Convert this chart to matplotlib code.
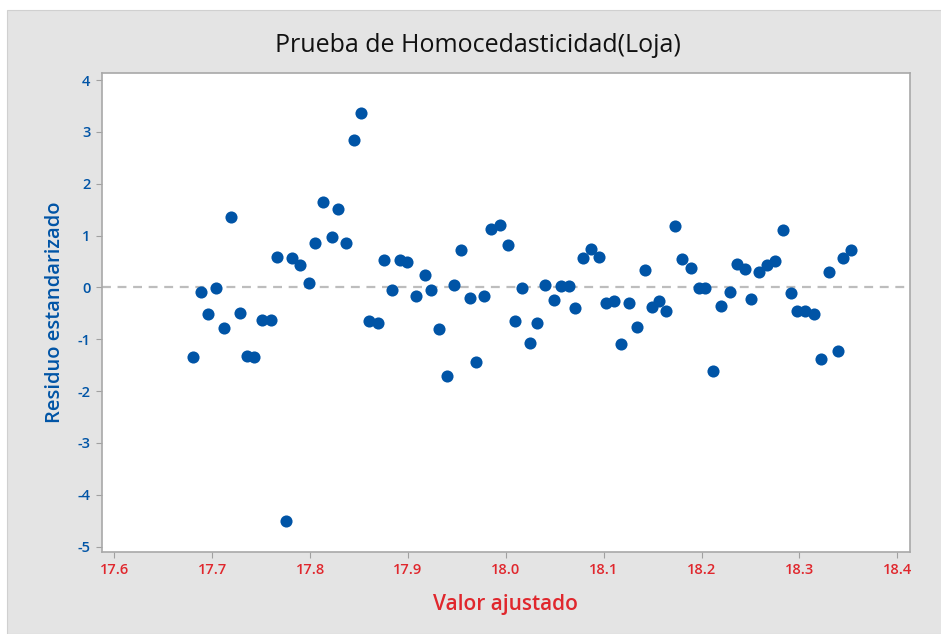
import numpy as np
import matplotlib.pyplot as plt
from matplotlib.patches import Rectangle

# fitted values (Valor ajustado) and standardized residuals
ajustado = [17.680, 17.689, 17.696, 17.704, 17.712, 17.719, 17.728, 17.736, 17.743,
            17.751, 17.760, 17.766, 17.775, 17.782, 17.790, 17.799, 17.805, 17.813,
            17.822, 17.829, 17.837, 17.845, 17.852, 17.860, 17.869, 17.876, 17.884,
            17.892, 17.899, 17.908, 17.917, 17.924, 17.932, 17.940, 17.947, 17.954,
            17.963, 17.970, 17.978, 17.985, 17.994, 18.002, 18.009, 18.017, 18.025,
            18.032, 18.040, 18.049, 18.056, 18.065, 18.071, 18.079, 18.087, 18.095,
            18.102, 18.111, 18.118, 18.126, 18.134, 18.142, 18.149, 18.157, 18.164,
            18.173, 18.180, 18.189, 18.197, 18.204, 18.212, 18.220, 18.229, 18.236,
            18.244, 18.251, 18.259, 18.267, 18.275, 18.283, 18.291, 18.298, 18.306,
            18.315, 18.322, 18.330, 18.339, 18.345, 18.353]
residuo = [-1.35, -0.08, -0.52, -0.01, -0.78, 1.36, -0.49, -1.32, -1.35,
           -0.62, -0.62, 0.59, -4.51, 0.56, 0.43, 0.09, 0.85, 1.64,
           0.98, 1.51, 0.85, 2.85, 3.37, -0.64, -0.69, 0.52, -0.05,
           0.52, 0.49, -0.17, 0.24, -0.05, -0.81, -1.70, 0.04, 0.72,
           -0.21, -1.44, -0.17, 1.12, 1.20, 0.81, -0.65, -0.01, -1.07,
           -0.68, 0.04, -0.24, 0.02, 0.02, -0.39, 0.56, 0.75, 0.59,
           -0.31, -0.27, -1.09, -0.30, -0.77, 0.34, -0.37, -0.27, -0.46,
           1.19, 0.54, 0.37, -0.01, -0.01, -1.61, -0.36, -0.08, 0.46,
           0.36, -0.23, 0.30, 0.43, 0.51, 1.10, -0.10, -0.46, -0.46,
           -0.52, -1.38, 0.30, -1.23, 0.56, 0.72]

xticks = [17.6, 17.7, 17.8, 17.9, 18.0, 18.1, 18.2, 18.3, 18.4]
yticks = [-5, -4, -3, -2, -1, 0, 1, 2, 3, 4]

azul = '#0054A6'
rojo = '#E0272D'
bg = '#E4E4E4'

plt.rcParams['font.family'] = ['Open Sans', 'DejaVu Sans']

fig = plt.figure(figsize=(9.41, 6.34), dpi=100, facecolor='white')
# gray panel with a thin white margin on top/left
fig.patches.append(Rectangle((7 / 941, 0), 1, 1 - 10 / 634, transform=fig.transFigure,
                             facecolor=bg, edgecolor='#D0D0D0', lw=0.8, zorder=-10))

ax = fig.add_axes([0.108, 0.129, 0.859, 0.756])
ax.set_zorder(1)
ax.set_facecolor('white')
ax.scatter(ajustado, residuo, s=76, color=azul, zorder=3, linewidths=0)
ax.axhline(0, color='#BDBDBD', ls=(0, (4, 3)), lw=1.6, zorder=2)

ax.set_xlim(17.587, 18.413)
ax.set_ylim(-5.11, 4.14)
ax.set_xticks(xticks)
ax.set_xticklabels([f'{t:.1f}' for t in xticks], color=rojo, fontsize=10.5, fontweight='semibold')
ax.set_yticks(yticks)
ax.set_yticklabels([str(t) for t in yticks], color=azul, fontsize=10.5, fontweight='semibold')
ax.tick_params(direction='out', length=4, width=0.8, color='#A0A0A0', pad=4)
for s in ax.spines.values():
    s.set_color('#A8A8A8')
    s.set_linewidth(1.2)

# title is centred on the whole panel, not on the axes
fig.suptitle('Prueba de Homocedasticidad(Loja)', x=0.508, y=0.929, va='center',
             fontsize=18, color='#111111')
ax.set_xlabel('Valor ajustado', color=rojo, fontsize=15, fontweight='semibold', labelpad=12)
ax.set_ylabel('Residuo estandarizado', color=azul, fontsize=14.5, fontweight='semibold', labelpad=9)

plt.savefig('out.png', dpi=100, facecolor=fig.get_facecolor())
